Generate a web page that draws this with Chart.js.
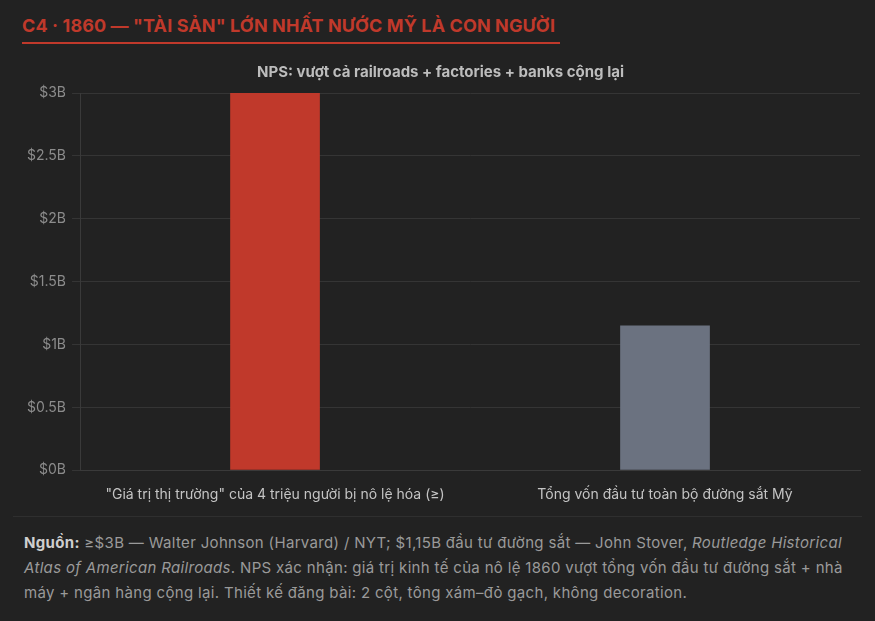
<!DOCTYPE html>
<html lang="vi">
<head>
<meta charset="UTF-8">
<title>C4 · 1860</title>
<script src="https://cdn.jsdelivr.net/npm/chart.js"></script>
<style>
    html, body { margin: 0; padding: 0; background: #222222; }
    body { width: 875px; height: 621px; position: relative; overflow: hidden; font-family: Inter, "Noto Sans", sans-serif; }
    .title {
        position: absolute; left: 22px; top: 15px;
        color: #c0392b; font-weight: 700; font-size: 18px; letter-spacing: 0.1px;
        padding-bottom: 6px; border-bottom: 2px solid #c0392b; padding-right: 5px;
    }
    .chart-box { position: absolute; left: 12px; top: 58px; width: 856px; height: 453px; }
    .sep { position: absolute; left: 13px; top: 516px; width: 849px; height: 1px; background: #2f2f2f; }
    .note {
        position: absolute; left: 24px; top: 530px; width: 840px;
        color: #9a9a9a; font-size: 15px; line-height: 25px; letter-spacing: 0.33px;
    }
    .note b { color: #cfcfcf; }
</style>
</head>
<body>
    <div class="title">C4 · 1860 — "TÀI SẢN" LỚN NHẤT NƯỚC MỸ LÀ CON NGƯỜI</div>
    <div class="chart-box"><canvas id="barChart"></canvas></div>
    <div class="sep"></div>
    <div class="note">
        <b>Nguồn:</b> ≥$3B — Walter Johnson (Harvard) / NYT; $1,15B đầu tư đường sắt — John Stover, <i>Routledge Historical Atlas of American Railroads</i>. NPS xác nhận: giá trị kinh tế của nô lệ 1860 vượt tổng vốn đầu tư đường sắt + nhà máy + ngân hàng cộng lại. Thiết kế đăng bài: 2 cột, tông xám–đỏ gạch, không decoration.
    </div>

    <script>
        // chart data
        var categories = ['"Giá trị thị trường" của 4 triệu người bị nô lệ hóa (≥)', 'Tổng vốn đầu tư toàn bộ đường sắt Mỹ'];
        var values = [3.0, 1.15];   // billions USD
        var barColors = ['#c0392b', '#6b7280'];
        var yTicks = [0, 0.5, 1, 1.5, 2, 2.5, 3];

        var ctx = document.getElementById('barChart').getContext('2d');
        new Chart(ctx, {
            type: 'bar',
            data: {
                labels: categories,
                datasets: [{
                    data: values,
                    backgroundColor: barColors,
                    borderWidth: 0,
                    barPercentage: 0.23,
                    categoryPercentage: 1
                }]
            },
            options: {
                responsive: true,
                maintainAspectRatio: false,
                animation: false,
                layout: { padding: { left: 9, right: 8, top: 0, bottom: 0 } },
                plugins: {
                    legend: { display: false },
                    tooltip: { enabled: false },
                    title: {
                        display: true,
                        text: 'NPS: vượt cả railroads + factories + banks cộng lại',
                        color: '#bdbdbd',
                        font: { family: 'Inter', size: 15, weight: '700' },
                        padding: { top: 5, bottom: 12 }
                    }
                },
                scales: {
                    x: {
                        grid: { display: false },
                        border: { color: '#3a3a3a' },
                        ticks: { color: '#c4c4c4', font: { family: 'Inter', size: 14 }, maxRotation: 0, padding: 8 }
                    },
                    y: {
                        min: 0,
                        max: 3,
                        afterBuildTicks: function (axis) {
                            axis.ticks = yTicks.map(function (v) { return { value: v }; });
                        },
                        grid: { color: '#353535', tickLength: 8 },
                        border: { color: '#3a3a3a' },
                        ticks: {
                            color: '#8c8c8c',
                            font: { family: 'Inter', size: 14 },
                            padding: 6,
                            callback: function (v) { return '$' + v + 'B'; }
                        }
                    }
                }
            }
        });
    </script>
</body>
</html>
